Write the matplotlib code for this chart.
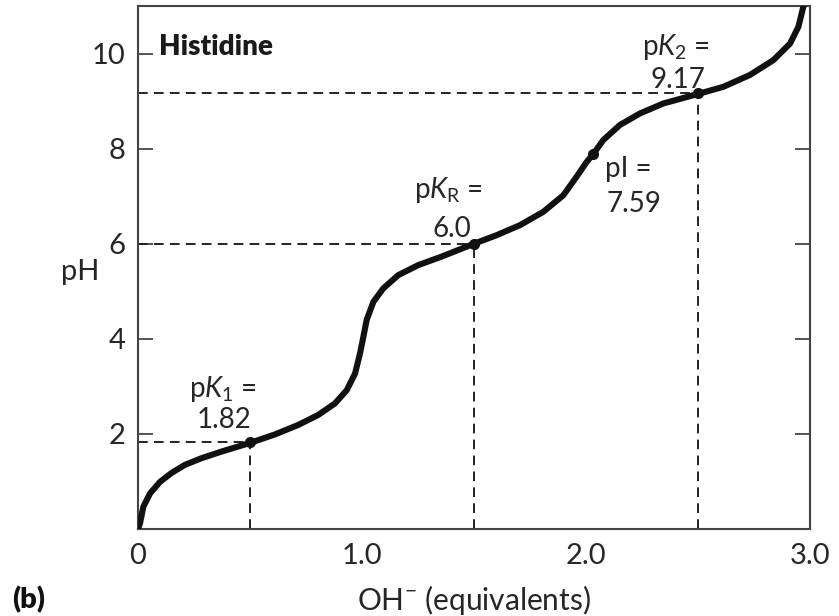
import matplotlib
matplotlib.use("Agg")
import matplotlib.pyplot as plt

plt.rcParams['font.family'] = ['Lato', 'DejaVu Sans']
plt.rcParams['mathtext.fontset'] = 'custom'
plt.rcParams['mathtext.rm'] = 'Lato'
plt.rcParams['mathtext.it'] = 'Lato:italic'
plt.rcParams['mathtext.bf'] = 'Lato:bold'

# titration curve (OH- equivalents, pH)
oh_eq = [0.0, 0.009, 0.024, 0.054, 0.098, 0.150, 0.210, 0.284, 0.374, 0.500,
         0.612, 0.716, 0.805, 0.879, 0.932, 0.969, 0.991, 1.006, 1.021, 1.051,
         1.095, 1.162, 1.251, 1.356, 1.50, 1.601, 1.705, 1.809, 1.899, 1.958,
         2.003, 2.033, 2.077, 2.152, 2.241, 2.345, 2.50, 2.613, 2.732, 2.836,
         2.911, 2.948, 2.970, 2.978]
ph = [0.0, 0.12, 0.47, 0.75, 0.99, 1.18, 1.35, 1.49, 1.63, 1.81,
      1.99, 2.19, 2.40, 2.64, 2.92, 3.27, 3.69, 4.04, 4.40, 4.78,
      5.06, 5.34, 5.55, 5.73, 6.00, 6.18, 6.39, 6.67, 7.02, 7.41,
      7.72, 7.89, 8.18, 8.50, 8.74, 8.95, 9.15, 9.30, 9.55, 9.86,
      10.21, 10.56, 10.98, 11.1]

# marked points
pk_x = [0.5, 1.5, 2.5]
pk_y = [1.82, 6.0, 9.17]
pi_x = 2.033
pi_y = 7.89

x_ticks = [0, 1, 2, 3]
x_labels = ['0', '1.0', '2.0', '3.0']
y_ticks = [2, 4, 6, 8, 10]

txt = '#262626'
ink = '#111111'
axc = '#444444'

fig = plt.figure(figsize=(8.39, 6.16), dpi=100)
ax = fig.add_axes([138/839, 1-529/616, 672/839, 523/616])

# dashed guide lines
for x, y in zip(pk_x, pk_y):
    ax.plot([0, x], [y, y], color='#222222', lw=1.4, dashes=(5, 3.2), zorder=2)
    ax.plot([x, x], [0, y], color='#222222', lw=1.4, dashes=(5, 3.2), zorder=2)

ax.plot(oh_eq, ph, color=ink, lw=4.4, solid_capstyle='butt', solid_joinstyle='round', zorder=3)
ax.plot(pk_x, pk_y, 'o', color=ink, ms=7, zorder=4)
ax.plot([pi_x], [pi_y], 'o', color=ink, ms=7, zorder=4)

ax.set_xlim(0, 3)
ax.set_ylim(0, 11)

ax.set_xticks(x_ticks)
ax.set_xticklabels(x_labels)
ax.set_xticks([1], minor=True)
ax.tick_params(axis='x', which='major', length=0, pad=10, labelsize=21, labelcolor=txt)
ax.tick_params(axis='x', which='minor', direction='in', length=11, width=1.3, color=axc)
ax.set_yticks(y_ticks)
ax.tick_params(axis='y', which='major', direction='in', length=11, width=1.3, color=axc,
               right=True, pad=9, labelsize=21, labelcolor=txt)

for s in ax.spines.values():
    s.set_color(axc)
    s.set_linewidth(1.5)

# annotations
ax.text(0.094, 9.97, 'Histidine', fontsize=20, fontweight='heavy', color='#1a1a1a', ha='left', va='baseline')
ax.text(0.38, 2.78, r'p$K_1$ =', fontsize=20, color=txt, ha='center', va='baseline')
ax.text(0.385, 2.12, '1.82', fontsize=20, color=txt, ha='center', va='baseline')
ax.text(1.385, 6.96, r'p$K_\mathrm{R}$ =', fontsize=20, color=txt, ha='center', va='baseline')
ax.text(1.40, 6.14, '6.0', fontsize=20, color=txt, ha='center', va='baseline')
ax.text(2.40, 9.97, r'p$K_2$ =', fontsize=20, color=txt, ha='center', va='baseline')
ax.text(2.41, 9.27, '9.17', fontsize=20, color=txt, ha='center', va='baseline')
ax.text(2.085, 7.40, 'pI =', fontsize=20, color=txt, ha='left', va='baseline')
ax.text(2.09, 6.67, '7.59', fontsize=20, color=txt, ha='left', va='baseline')

fig.text(80/839, 1-272/616, 'pH', fontsize=21, color=txt, ha='center', va='center')
fig.text(474/839, 1-600/616, r'OH$^{-}$ (equivalents)', fontsize=21.5, color=txt, ha='center', va='center')
fig.text(12/839, 1-600/616, '(b)', fontsize=21, fontweight='heavy', color='#111111', ha='left', va='center')

fig.savefig('out.png', dpi=100)
